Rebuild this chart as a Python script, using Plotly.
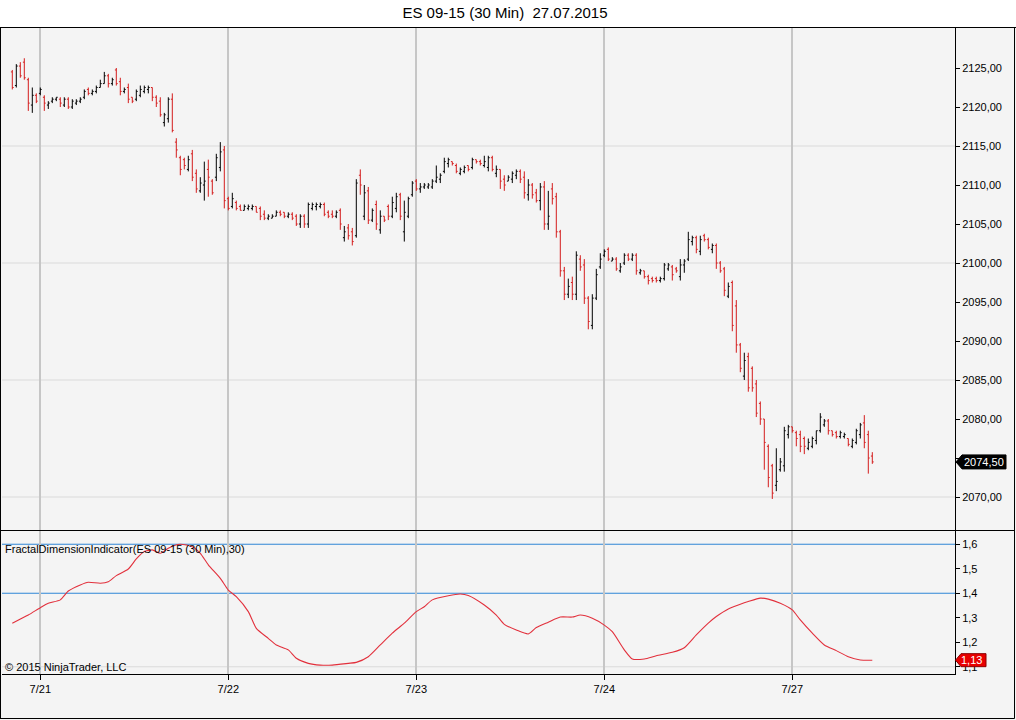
import plotly.graph_objects as go

# ES 09-15, 30 minute bars, 21.07.2015 - 27.07.2015
OPEN = [
    2124.5, 2122.75, 2125.25, 2125.75, 2123.5, 2120.25, 2121.5, 2121.75, 2121.25, 2120.25,
    2120.75, 2121, 2121, 2120.25, 2121, 2120, 2120.5, 2120.75, 2121.25, 2122.25,
    2121.75, 2122, 2122.5, 2123, 2124, 2123, 2124.75, 2123.25, 2122, 2122.5,
    2121.25, 2121, 2121.5, 2122, 2122.25, 2122.5, 2121.25, 2120.75, 2118, 2118.5,
    2121, 2115.5, 2113.5, 2113.25, 2112, 2114, 2111.5, 2109.25, 2110, 2112,
    2110.5, 2111, 2112.25, 2114.5, 2108.25, 2107.25, 2107.75, 2107.25, 2106.75, 2107,
    2107, 2107.25, 2107, 2106.25, 2105.75, 2105.75, 2106, 2106.5, 2106.5, 2106,
    2106.25, 2106, 2105, 2106, 2105, 2107, 2107.25, 2107.25, 2107.5, 2106.5,
    2106.25, 2106, 2106.75, 2103.25, 2104.5, 2104, 2103.5, 2111.25, 2106, 2109.25,
    2105.5, 2107.5, 2104.25, 2106, 2107.25, 2106, 2107, 2108.75, 2104, 2106,
    2108.75, 2110.5, 2109.5, 2109.75, 2109.75, 2109.75, 2110.5, 2110.75, 2111.75, 2112.75,
    2113, 2112.5, 2111.5, 2111.75, 2112.5, 2112.25, 2113.25, 2113, 2112.5, 2112.25,
    2113.5, 2111.5, 2112, 2110.75, 2110.5, 2110.75, 2111.25, 2111.75, 2111, 2108.75,
    2110, 2109, 2108, 2109.75, 2105, 2109.5, 2108.5, 2104, 2099, 2096,
    2097.5, 2096, 2100.5, 2099.75, 2095.5, 2092, 2095.5, 2099.5, 2101, 2101.75,
    2100.25, 2100.5, 2099, 2100, 2101, 2100.5, 2101, 2098.75, 2099, 2098.25,
    2098, 2098, 2097.75, 2098, 2099.25, 2099.5, 2099.25, 2098.25, 2099.75, 2100.5,
    2102.75, 2103.25, 2101.5, 2103.5, 2103, 2101.75, 2102.25, 2100, 2099.25, 2095.75,
    2097.5, 2094.5, 2089.5, 2085.5, 2088, 2086.5, 2084.5, 2082, 2080, 2076.5,
    2074, 2071.5, 2073.5, 2074, 2078, 2079, 2078.25, 2078, 2077.5, 2076.25,
    2076.5, 2077.25, 2078.5, 2079.25, 2079.75, 2078.5, 2078.25, 2077.75, 2077.75, 2077.5,
    2076.5, 2077, 2078, 2079.5, 2078, 2075.25,
]
HIGH = [
    2124.75, 2125.5, 2125.75, 2126.25, 2123.75, 2122.5, 2121.75, 2122.5, 2121.5, 2120.75,
    2121.25, 2121.25, 2121.25, 2121.25, 2121.25, 2121, 2121, 2121.25, 2122.25, 2122.5,
    2122.25, 2122.75, 2123.5, 2124.5, 2124.25, 2123.75, 2125, 2123.75, 2122.5, 2123,
    2121.25, 2122.25, 2122.75, 2122.75, 2122.75, 2122.5, 2121.5, 2121.25, 2119.25, 2121.25,
    2121.75, 2116, 2113.75, 2113.5, 2113.75, 2114.5, 2112, 2111, 2113, 2113.25,
    2110.75, 2114, 2115.5, 2115, 2108.5, 2109, 2108, 2107.5, 2107.5, 2107.5,
    2107.5, 2107.25, 2107.25, 2106.75, 2106.25, 2106.25, 2106.75, 2106.75, 2106.5, 2106.5,
    2106.5, 2106.25, 2106.25, 2106.25, 2107.75, 2107.75, 2107.75, 2107.75, 2107.75, 2106.75,
    2106.75, 2106.75, 2107, 2104.75, 2105, 2104.5, 2110.75, 2112, 2110, 2109.75,
    2107, 2108, 2106.75, 2106, 2107.5, 2108.5, 2109, 2109, 2108, 2108.5,
    2110.5, 2110.75, 2110.25, 2110.25, 2110.25, 2110.75, 2112.5, 2111.5, 2113.5, 2113.5,
    2113, 2112.75, 2112.25, 2112.5, 2112.5, 2113.5, 2113.25, 2113.25, 2113.75, 2113.75,
    2113.75, 2112.5, 2112, 2111.25, 2111.25, 2111.75, 2112, 2112, 2111.75, 2110.75,
    2110.25, 2109.5, 2110.25, 2110.5, 2109.25, 2110.25, 2109, 2104.25, 2099.5, 2098,
    2098.25, 2101.5, 2101, 2100.5, 2095.75, 2096, 2099.25, 2101.25, 2101.75, 2102,
    2100.75, 2100.75, 2100, 2101.25, 2101.25, 2101.25, 2101.25, 2099.25, 2099, 2098.5,
    2098.25, 2098.25, 2098.25, 2100, 2100, 2099.75, 2099.5, 2100.5, 2100.5, 2104,
    2103.5, 2103.5, 2103.5, 2103.75, 2103.25, 2102.5, 2102.5, 2100.25, 2099.5, 2097.5,
    2097.75, 2095.25, 2089.75, 2088.5, 2088.5, 2086.75, 2085, 2082.25, 2080, 2076.75,
    2074.25, 2076.25, 2075, 2079, 2079.25, 2079, 2078.5, 2078.5, 2077.75, 2077.5,
    2077.75, 2078.5, 2080.75, 2080, 2080, 2078.5, 2078.5, 2078.5, 2078.25, 2077.5,
    2077.5, 2078.75, 2079.5, 2080.5, 2078.5, 2075.75,
]
LOW = [
    2122.25, 2122.5, 2123.75, 2123.5, 2119.5, 2119.25, 2120.5, 2121.5, 2119.5, 2119.75,
    2120.5, 2120.75, 2120, 2120, 2119.75, 2119.75, 2120.25, 2120.5, 2121, 2121.5,
    2121.5, 2121.75, 2122.5, 2123, 2122.5, 2122.75, 2122.75, 2121.5, 2121.75, 2120.5,
    2120.5, 2120.75, 2121.25, 2121.75, 2121.75, 2120.75, 2120, 2118.75, 2117.5, 2118,
    2116.75, 2113.5, 2111.25, 2112, 2111.75, 2110.5, 2109, 2109, 2108, 2108.5,
    2108.75, 2110.5, 2111.75, 2107, 2106.75, 2107, 2106.75, 2106.75, 2106.75, 2106.75,
    2106.75, 2106.5, 2105.5, 2105.5, 2105.5, 2105.75, 2106, 2106, 2105.75, 2105.75,
    2105.5, 2104.75, 2104.5, 2104.5, 2104.5, 2106.75, 2106.75, 2107, 2106, 2105.75,
    2105.75, 2105.75, 2104.25, 2102.75, 2103, 2102.25, 2103.25, 2108.75, 2105.5, 2105,
    2105.25, 2104.25, 2103.75, 2105.25, 2105.5, 2105.75, 2106.5, 2105.5, 2102.75, 2105.75,
    2108.5, 2109.25, 2109, 2109.5, 2109.5, 2109.5, 2110.25, 2110.25, 2111.5, 2112.25,
    2112.5, 2111.5, 2111.25, 2111.5, 2111.75, 2112, 2112.75, 2112.5, 2112.25, 2111.75,
    2111.75, 2111, 2109.5, 2109.25, 2110.5, 2110.25, 2110.75, 2110.25, 2108.25, 2108,
    2108.25, 2107.75, 2106.75, 2104.25, 2104.25, 2107.5, 2103.25, 2098.25, 2095.25, 2095.5,
    2095.25, 2095.25, 2099, 2094.75, 2091.5, 2091.5, 2095.25, 2099.25, 2100.75, 2100.25,
    2100.25, 2099, 2098.75, 2099.75, 2100.25, 2100.25, 2098.5, 2098.5, 2098, 2097.25,
    2097.5, 2097.5, 2097.5, 2097.75, 2099, 2097.75, 2098.75, 2097.75, 2098.75, 2100.25,
    2102.25, 2101.25, 2101, 2102.75, 2101.75, 2101.25, 2099.25, 2098.75, 2095.75, 2095.5,
    2091.25, 2088.5, 2086, 2085, 2083.5, 2083.5, 2080.25, 2079.25, 2073.5, 2071.25,
    2069.75, 2070.75, 2073.25, 2073.25, 2077.5, 2078.25, 2076.5, 2075.75, 2075.5, 2076,
    2076.25, 2076.75, 2078.25, 2079, 2078, 2077.75, 2077.5, 2077.5, 2077.5, 2076.5,
    2076.25, 2076.75, 2077.5, 2076.25, 2073, 2074.25,
]
CLOSE = [
    2122.5, 2125.25, 2124, 2123.75, 2120.5, 2121.5, 2120.75, 2122.25, 2120.5, 2120.5,
    2121, 2121.25, 2120.5, 2121, 2120, 2120.75, 2120.75, 2121, 2122, 2121.75,
    2122, 2122.5, 2123, 2124, 2123, 2123.5, 2123, 2122, 2122.25, 2121,
    2120.75, 2122, 2122.25, 2122.5, 2122.5, 2121.25, 2120.5, 2119, 2119, 2121,
    2117, 2114.5, 2112, 2112.5, 2113.25, 2111, 2109.5, 2110.25, 2110.5, 2111,
    2109, 2113.5, 2114.25, 2108, 2107, 2108.25, 2107, 2106.75, 2107.25, 2107.25,
    2107.25, 2106.5, 2106, 2105.75, 2106, 2106, 2106.5, 2106.25, 2106, 2106.25,
    2105.75, 2105, 2106, 2105, 2107.5, 2107.5, 2107.5, 2107.5, 2106.25, 2106,
    2106, 2106.5, 2105, 2104, 2103.5, 2102.75, 2110.25, 2110, 2109, 2105.5,
    2106.75, 2105, 2106, 2105.5, 2106, 2107.75, 2108.5, 2106, 2106.5, 2108.25,
    2110.25, 2109.5, 2109.75, 2110, 2110, 2110.5, 2111, 2111.25, 2113, 2113.25,
    2112.75, 2111.75, 2112, 2112.25, 2112, 2113.25, 2113, 2112.75, 2113, 2113.5,
    2112, 2112, 2110.5, 2110, 2111, 2111.5, 2111.75, 2110.75, 2109, 2110,
    2108.75, 2108, 2109.75, 2105, 2106, 2108.25, 2104, 2099, 2096, 2097,
    2096, 2101, 2099.5, 2095.5, 2092.5, 2095.5, 2098.5, 2100.5, 2101.5, 2100.5,
    2100.5, 2099.25, 2099.5, 2101, 2100.5, 2101, 2099, 2099, 2098.25, 2097.75,
    2097.75, 2097.75, 2098, 2099.75, 2099.75, 2098.5, 2099, 2099.75, 2100.25, 2103,
    2103.25, 2101.75, 2103, 2103, 2102, 2102.25, 2100, 2099, 2096.5, 2097,
    2092, 2089.5, 2086.5, 2087.5, 2084, 2084, 2080.75, 2080, 2077, 2072.5,
    2070.5, 2072, 2074.5, 2078.5, 2079, 2078.5, 2077.5, 2076.5, 2076.5, 2077,
    2077.5, 2078.5, 2080.25, 2079.75, 2078.5, 2078, 2077.75, 2078.25, 2078, 2076.75,
    2077.25, 2078.5, 2079.25, 2077, 2075, 2074.5,
]

# FractalDimensionIndicator(30) read at these bars
FDI_BAR = [
    0, 4, 7, 9, 12, 14, 17, 19, 22, 24, 26, 29, 31, 33, 35, 37, 39, 42, 45, 47,
    49, 52, 54, 56, 59, 61, 64, 66, 69, 71, 74, 77, 80, 84, 86, 89, 92, 95, 98, 101,
    103, 105, 109, 112, 114, 118, 121, 123, 126, 129, 131, 134, 137, 140, 142, 145, 148, 150, 153, 155,
    158, 161, 165, 168, 171, 174, 176, 179, 182, 184, 187, 189, 192, 195, 197, 200, 203, 206, 209, 212,
    215,
]
FDI_VALUE = [
    1.278, 1.311, 1.341, 1.359, 1.373, 1.409, 1.434, 1.445, 1.441, 1.447,
    1.472, 1.499, 1.54, 1.57, 1.577, 1.563, 1.584, 1.600, 1.59, 1.563,
    1.516, 1.461, 1.413, 1.386, 1.325, 1.257, 1.216, 1.189, 1.169, 1.135,
    1.114, 1.107, 1.107, 1.114, 1.118, 1.141, 1.189, 1.237, 1.278, 1.325,
    1.345, 1.373, 1.39, 1.397, 1.391, 1.352, 1.311, 1.273, 1.25, 1.234,
    1.26, 1.282, 1.303, 1.303, 1.311, 1.298, 1.27, 1.243, 1.169, 1.132,
    1.132, 1.145, 1.159, 1.178, 1.23, 1.278, 1.305, 1.336, 1.355, 1.366,
    1.38, 1.376, 1.359, 1.332, 1.291, 1.237, 1.189, 1.166, 1.141, 1.128,
    1.127,
]
FDI_LEVELS = [1.6, 1.4]

DAY_FIRST_BAR = [7, 54, 101, 148, 195]
DAY_LABELS = ['7/21', '7/22', '7/23', '7/24', '7/27']
PRICE_TICKS = [2070, 2075, 2080, 2085, 2090, 2095, 2100, 2105, 2110, 2115, 2120, 2125]
PRICE_GRID = [2070, 2085, 2100, 2115]
FDI_TICKS = [1.1, 1.2, 1.3, 1.4, 1.5, 1.6]

W, H = 1016, 720
LM, RM, TM, BM = 2, 61, 28, 46
FONT = 'Arial, Liberation Sans, sans-serif'
RED = '#d41c1c'
BG = '#f4f4f4'


def px_x(px):
    """pixel column -> paper x"""
    return (px - LM) / (W - LM - RM)


def px_y(py):
    """pixel row -> paper y"""
    return (H - BM - py) / (H - TM - BM)


def comma(v, nd):
    return f"{v:.{nd}f}".replace('.', ',')


bars = list(range(len(CLOSE)))
last = CLOSE[-1]
fdi_last = FDI_VALUE[-1]

fig = go.Figure()
fig.add_trace(go.Ohlc(
    x=bars, open=OPEN, high=HIGH, low=LOW, close=CLOSE,
    increasing=dict(line=dict(color='black', width=1)),
    decreasing=dict(line=dict(color=RED, width=1)),
    tickwidth=0.35, hoverinfo='skip', showlegend=False,
    xaxis='x', yaxis='y'))
fig.add_trace(go.Scatter(
    x=FDI_BAR, y=FDI_VALUE, mode='lines',
    line=dict(color='#e2303c', width=1.1, shape='spline', smoothing=0.6),
    hoverinfo='skip', showlegend=False, xaxis='x2', yaxis='y2'))

shapes = []
# light horizontal grid in price panel
for v in PRICE_GRID:
    shapes.append(dict(type='line', xref='x domain', yref='y', x0=0, x1=1, y0=v, y1=v,
                       line=dict(color='#dadada', width=1), layer='below'))
shapes.append(dict(type='line', xref='x2 domain', yref='y2', x0=0, x1=1, y0=1.1, y1=1.1,
                   line=dict(color='#dadada', width=1), layer='below'))
# indicator levels
for v in FDI_LEVELS:
    shapes.append(dict(type='line', xref='x2 domain', yref='y2', x0=0, x1=1, y0=v, y1=v,
                       line=dict(color='#2f86d6', width=1), layer='below'))

# white strip for the title and the outer frame
shapes.append(dict(type='rect', xref='paper', yref='paper', x0=px_x(0), x1=px_x(W),
                   y0=px_y(27.5), y1=px_y(0), fillcolor='white', line_width=0, layer='below'))
frame = dict(color='black', width=1)
shapes += [
    dict(type='line', xref='paper', yref='paper', x0=px_x(0), x1=px_x(W), y0=px_y(27.5), y1=px_y(27.5), line=frame),
    dict(type='line', xref='paper', yref='paper', x0=px_x(0.5), x1=px_x(0.5), y0=px_y(27.5), y1=px_y(718.5), line=frame),
    dict(type='line', xref='paper', yref='paper', x0=px_x(1014.5), x1=px_x(1014.5), y0=px_y(27.5), y1=px_y(718.5), line=frame),
    dict(type='line', xref='paper', yref='paper', x0=px_x(0), x1=px_x(1014.5), y0=px_y(718.5), y1=px_y(718.5), line=frame),
    dict(type='line', xref='paper', yref='paper', x0=px_x(0), x1=px_x(1014.5), y0=px_y(530.5), y1=px_y(530.5), line=frame),
]

# last price tag (black) and last indicator tag (red)
hp = 7 / 7.8
shapes.append(dict(type='path', xref='paper', yref='y',
                   path=(f"M {px_x(956)},{last} L {px_x(962)},{last + hp} L {px_x(1006)},{last + hp} "
                         f"L {px_x(1006)},{last - hp} L {px_x(962)},{last - hp} Z"),
                   fillcolor='black', line=dict(color='black', width=1), layer='above'))
hf = 6.5 / 245
shapes.append(dict(type='path', xref='paper', yref='y2',
                   path=(f"M {px_x(955.5)},{fdi_last} L {px_x(961)},{fdi_last + hf} L {px_x(986)},{fdi_last + hf} "
                         f"L {px_x(986)},{fdi_last - hf} L {px_x(961)},{fdi_last - hf} Z"),
                   fillcolor='#e80000', line=dict(color='#8a0000', width=1), layer='above'))

annotations = [
    dict(xref='paper', yref='y', x=px_x(984), y=last, text=comma(last, 2), showarrow=False,
         font=dict(family=FONT, size=11, color='white'), xanchor='center', yanchor='middle'),
    dict(xref='paper', yref='y2', x=px_x(971.5), y=fdi_last, text=comma(fdi_last, 2), showarrow=False,
         font=dict(family=FONT, size=11, color='white'), xanchor='center', yanchor='middle'),
    dict(xref='paper', yref='paper', x=px_x(3), y=px_y(549), xanchor='left', yanchor='middle',
         text='FractalDimensionIndicator(ES 09-15 (30 Min),30)', showarrow=False,
         font=dict(family=FONT, size=11, color='black')),
    dict(xref='paper', yref='paper', x=px_x(3), y=px_y(667), xanchor='left', yanchor='middle',
         text='\u00a9 2015 NinjaTrader, LLC', showarrow=False,
         font=dict(family=FONT, size=11, color='black')),
]

# the 2075 label sits under the last price tag, as in NinjaTrader
price_text = ['' if abs(v - last) < 2.5 else comma(v, 2) for v in PRICE_TICKS]

x_range = [(LM - 12.3) / 4, (W - RM - 12.3) / 4]
axis_common = dict(showline=True, linecolor='black', linewidth=1, zeroline=False,
                   tickfont=dict(family=FONT, size=11, color='black'))

fig.update_layout(
    width=W, height=H,
    margin=dict(l=LM, r=RM, t=TM, b=BM),
    paper_bgcolor=BG, plot_bgcolor=BG,
    title=dict(text='ES 09-15 (30 Min)  27.07.2015', x=505 / W, y=1 - 13 / H,
               xanchor='center', yanchor='middle',
               font=dict(family=FONT, size=15, color='black')),
    xaxis=dict(range=x_range, domain=[0, 1], anchor='y', tickvals=DAY_FIRST_BAR,
               showticklabels=False, ticks='', showgrid=True, gridcolor='#c6c6c6', gridwidth=1.5,
               showline=False, zeroline=False, rangeslider=dict(visible=False), fixedrange=True),
    yaxis=dict(range=[2065.77, 2130.13], domain=[px_y(530), 1], side='right', anchor='x',
               tickvals=PRICE_TICKS, ticktext=price_text,
               ticks='outside', ticklen=4, tickcolor='black', showgrid=False, **axis_common),
    xaxis2=dict(range=x_range, domain=[0, 1], anchor='y2', matches='x', tickvals=DAY_FIRST_BAR,
                ticktext=DAY_LABELS, ticks='outside', ticklen=5, tickcolor='black',
                showgrid=True, gridcolor='#c6c6c6', gridwidth=1.5, **axis_common),
    yaxis2=dict(range=[1.0706, 1.654], domain=[0, px_y(531)], side='right', anchor='x2',
                tickvals=FDI_TICKS, ticktext=[comma(v, 1) for v in FDI_TICKS],
                ticks='outside', ticklen=4, tickcolor='black', showgrid=False, **axis_common),
    shapes=shapes,
    annotations=annotations,
    showlegend=False,
)

fig.write_html("out.html", config={'displayModeBar': False},
               post_script="document.body.style.margin='0px';")
